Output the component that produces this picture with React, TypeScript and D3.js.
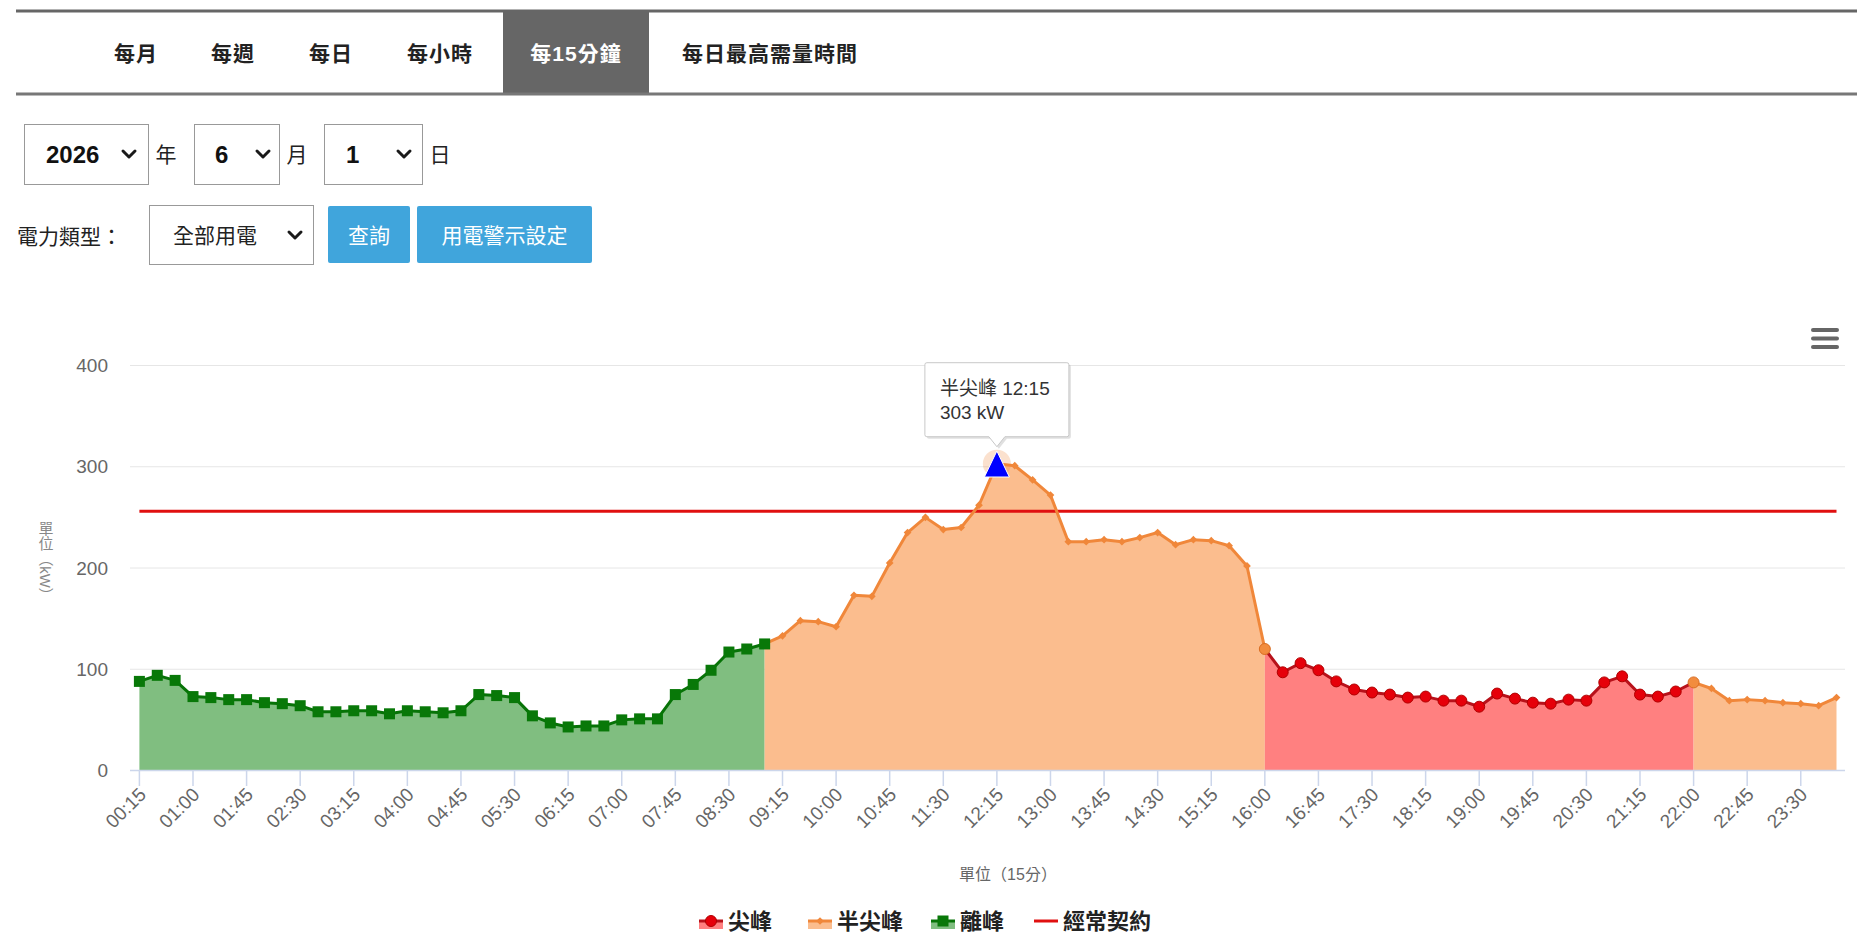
import * as d3 from "d3"

const FONT = "'Liberation Sans', Arial, 'Noto Sans CJK TC', sans-serif"

// 15-minute slots, 00:15 … 24:00
const categories: string[] = Array.from({ length: 96 }, (_, i) => {
  const m = (i + 1) * 15
  return `${String(Math.floor(m / 60)).padStart(2, "0")}:${String(m % 60).padStart(2, "0")}`
})

// load in kW
const offPeakKW = [88, 94, 89, 73, 72, 70, 70, 67, 66, 64, 58, 58, 59, 59, 56, 59, 58, 57, 59, 75, 74, 72, 54, 47, 43, 44, 44, 50, 51, 51, 75, 85, 99, 117, 120, 125] // 00:15-09:00
const semiPeakDayKW = [133, 148, 147, 142, 173, 172, 205, 235, 250, 238, 240, 262, 303, 301, 287, 272, 226, 226, 228, 226, 230, 235, 223, 228, 227, 222, 202, 120] // 09:15-16:00
const peakKW = [97, 106, 99, 88, 80, 77, 75, 72, 73, 69, 69, 63, 76, 71, 67, 66, 70, 69, 87, 93, 75, 73, 78, 87] // 16:15-22:00
const semiPeakNightKW = [81, 69, 70, 69, 67, 66, 64, 72] // 22:15-24:00
const contractKW = 256
const yTicks = [0, 100, 200, 300, 400]

const tabs = ["每月", "每週", "每日", "每小時", "每15分鐘", "每日最高需量時間"]
const tabX = [136, 233, 331, 440, 576, 770]
const activeTab = "每15分鐘"

const load = [...offPeakKW, ...semiPeakDayKW, ...peakKW, ...semiPeakNightKW]

const GREEN = { line: "#077307", fill: "#80be80", mark: "#087808" }
const ORANGE = { line: "#f0873a", fill: "#fbbd8e", mark: "#f0873a" }
const RED = { line: "#b8121b", fill: "#ff8080", mark: "#e6000a" }

const periods = [
  { name: "離峰", from: 0, to: 35, c: GREEN },
  { name: "半尖峰", from: 35, to: 63, c: ORANGE },
  { name: "尖峰", from: 63, to: 87, c: RED },
  { name: "半尖峰", from: 87, to: 95, c: ORANGE },
]
const boundaryIdx = [63, 87]
const peakIdx = load.indexOf(d3.max(load) as number)

const legendItems = [
  { label: "尖峰", c: RED, kind: "circle", x: 711 },
  { label: "半尖峰", c: ORANGE, kind: "diamond", x: 820 },
  { label: "離峰", c: GREEN, kind: "square", x: 943 },
  { label: "經常契約", c: { line: "#e01010", fill: "none", mark: "" }, kind: "line", x: 1046 },
]

const Chevron = ({ cx, cy }: { cx: number; cy: number }) => (
  <path d={`M${cx - 6},${cy - 3} L${cx},${cy + 3} L${cx + 6},${cy - 3}`} fill="none" stroke="#1a1a1a" strokeWidth={3} strokeLinecap="round" strokeLinejoin="round" />
)

const Marker = ({ kind, x, y, fill, stroke }: any) => {
  if (kind === "square") return <rect x={x - 5.5} y={y - 5.5} width={11} height={11} fill={fill} />
  if (kind === "diamond") return <path d={d3.symbol(d3.symbolSquare, 30)() as string} transform={`translate(${x},${y}) rotate(45)`} fill={fill} />
  return <circle cx={x} cy={y} r={5.5} fill={fill} stroke={stroke} strokeWidth={1} />
}

export default function App() {
  const x = d3.scalePoint<string>().domain(categories).range([139.4, 1836.5])
  const y = d3.scaleLinear().domain([0, 400]).range([770.5, 365.5])
  const xi = (i: number) => x(categories[i]) as number

  const area = d3.area<number>().x(xi).y0(y(0)).y1((i) => y(load[i]))
  const line = d3.line<number>().x(xi).y((i) => y(load[i]))
  const contractLine = d3.line<string>().x((c) => x(c) as number).y(() => y(contractKW))

  const px = xi(peakIdx)
  const py = y(load[peakIdx])

  return (
    <svg width={1857} height={952} style={{ position: "absolute", left: 0, top: 0, background: "#fff" }} fontFamily={FONT}>
      {/* tab bar */}
      <rect x={503} y={11} width={146} height={82} fill="#666" />
      <line x1={16} x2={1857} y1={11} y2={11} stroke="#666" strokeWidth={3} />
      <line x1={16} x2={1857} y1={94} y2={94} stroke="#777" strokeWidth={3} />
      {tabs.map((t, i) => (
        <text key={t} x={tabX[i]} y={61} textAnchor="middle" fontSize={21} fontWeight={t === activeTab ? 700 : 600} letterSpacing={1} fill={t === activeTab ? "#fff" : "#222"}>
          {t}
        </text>
      ))}

      {/* date selects */}
      <rect x={24.5} y={124.5} width={124} height={60} fill="#fff" stroke="#999" />
      <text x={46} y={163} fontSize={24} fontWeight={700} fill="#111">2026</text>
      <Chevron cx={129} cy={154} />
      <text x={166} y={162} textAnchor="middle" fontSize={21} fill="#222">年</text>
      <rect x={194.5} y={124.5} width={85} height={60} fill="#fff" stroke="#999" />
      <text x={215} y={163} fontSize={24} fontWeight={700} fill="#111">6</text>
      <Chevron cx={263} cy={154} />
      <text x={297} y={162} textAnchor="middle" fontSize={21} fill="#222">月</text>
      <rect x={324.5} y={124.5} width={98} height={60} fill="#fff" stroke="#999" />
      <text x={346} y={163} fontSize={24} fontWeight={700} fill="#111">1</text>
      <Chevron cx={404} cy={154} />
      <text x={440} y={162} textAnchor="middle" fontSize={21} fill="#222">日</text>

      {/* type row */}
      <text x={17} y={244} fontSize={21} fill="#222">電力類型：</text>
      <rect x={149.5} y={205.5} width={164} height={59} fill="#fff" stroke="#999" />
      <text x={173} y={243} fontSize={21} fill="#222">全部用電</text>
      <Chevron cx={295} cy={235} />
      <rect x={328} y={206} width={82} height={57} rx={2} fill="#40a5dc" />
      <text x={369} y={243} textAnchor="middle" fontSize={21} fill="#fff">查詢</text>
      <rect x={417} y={206} width={175} height={57} rx={2} fill="#40a5dc" />
      <text x={504.5} y={243} textAnchor="middle" fontSize={21} fill="#fff">用電警示設定</text>

      {/* menu icon */}
      {[330, 338.5, 347].map((yy) => (
        <line key={yy} x1={1813} x2={1837} y1={yy} y2={yy} stroke="#666" strokeWidth={4} strokeLinecap="round" />
      ))}

      {/* grid + y axis */}
      {yTicks.map((t) => (
        <g key={t}>
          {t > 0 && <line x1={130} x2={1845} y1={y(t)} y2={y(t)} stroke="#e6e6e6" strokeWidth={1} />}
          <text x={108} y={y(t)} dy="0.35em" textAnchor="end" fontSize={19} fill="#666">{t}</text>
        </g>
      ))}
      <text x={45} y={562} textAnchor="middle" fontSize={15} fill="#888" style={{ writingMode: "vertical-rl" } as any}>單位（kW）</text>

      {/* areas */}
      {periods.map((p, k) => (
        <path key={`a${k}`} d={area(d3.range(p.from, p.to + 1)) as string} fill={p.c.fill} />
      ))}

      {/* x axis */}
      <line x1={130} x2={1845} y1={770.5} y2={770.5} stroke="#ccd6eb" strokeWidth={1.5} />
      {categories.map((c, i) =>
        i % 3 === 0 ? (
          <g key={c}>
            <line x1={xi(i)} x2={xi(i)} y1={770.5} y2={786} stroke="#ccd6eb" strokeWidth={1.5} />
            <text transform={`translate(${xi(i) + 3},${791}) rotate(-45)`} dy="0.35em" textAnchor="end" fontSize={19} fill="#666">{c}</text>
          </g>
        ) : null
      )}
      <text x={1008} y={880} textAnchor="middle" fontSize={16} fill="#666">單位（15分）</text>

      {/* contract line */}
      <path d={contractLine(categories) as string} fill="none" stroke="#e01010" strokeWidth={3} />

      {/* series lines */}
      {periods.map((p, k) => (
        <path key={`l${k}`} d={line(d3.range(p.from, p.to + 1)) as string} fill="none" stroke={p.c.line} strokeWidth={3} strokeLinejoin="round" />
      ))}

      {/* markers */}
      {load.map((v, i) => {
        if (i === peakIdx) return null
        const xx = xi(i)
        const yy = y(v)
        if (boundaryIdx.includes(i)) return <Marker key={i} kind="circle" x={xx} y={yy} fill="#f28c3e" stroke="#d96d22" />
        const p = periods.find((q) => (i === 0 ? q.from === 0 : i > q.from && i <= q.to))!
        const kind = p.c === GREEN ? "square" : p.c === RED ? "circle" : "diamond"
        return <Marker key={i} kind={kind} x={xx} y={yy} fill={p.c.mark} stroke="#b00000" />
      })}

      {/* hovered peak */}
      <circle cx={px} cy={py} r={14} fill={ORANGE.line} opacity={0.25} />
      <path d={`M${px},${py - 12.7} L${px + 12.5},${py + 13.3} L${px - 12.5},${py + 13.3} Z`} fill="#0000ff" stroke="#fff" strokeWidth={1} />

      {/* tooltip */}
      <g transform={`translate(${px},${py - 27})`}>
        <path d="M-70,-74 H70 Q72,-74 72,-72 V-2 Q72,0 70,0 H8 L0,10 L-8,0 H-70 Q-72,0 -72,-2 V-72 Q-72,-74 -70,-74 Z" fill="#000" opacity={0.12} transform="translate(2,2)" />
        <path d="M-70,-74 H70 Q72,-74 72,-72 V-2 Q72,0 70,0 H8 L0,10 L-8,0 H-70 Q-72,0 -72,-2 V-72 Q-72,-74 -70,-74 Z" fill="#fff" stroke="#c8c8c8" strokeWidth={1} />
        <text x={-57} y={-42} fontSize={19} fill="#333">半尖峰 {categories[peakIdx]}</text>
        <text x={-57} y={-18} fontSize={19} fill="#333">{load[peakIdx]} kW</text>
      </g>

      {/* legend */}
      {legendItems.map((it) => (
        <g key={it.label} transform={`translate(${it.x},921)`}>
          {it.kind === "line" ? (
            <line x1={-12} x2={12} y1={0} y2={0} stroke={it.c.line} strokeWidth={3} />
          ) : (
            <>
              <rect x={-12} y={0} width={24} height={8} fill={it.c.fill} />
              <line x1={-12} x2={12} y1={0} y2={0} stroke={it.c.line} strokeWidth={3} />
              <Marker kind={it.kind} x={0} y={0} fill={it.c.mark} stroke="#b00000" />
            </>
          )}
          <text x={17} y={0} dy="0.36em" fontSize={22} fontWeight={700} fill="#222">{it.label}</text>
        </g>
      ))}
    </svg>
  )
}
